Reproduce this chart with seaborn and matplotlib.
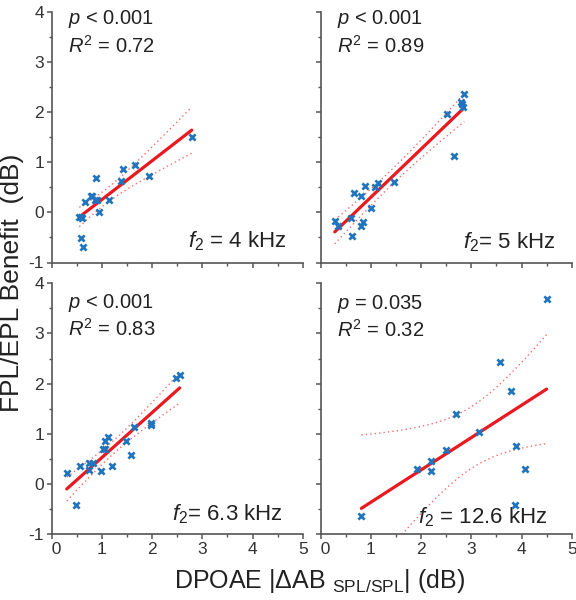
import numpy as np
import pandas as pd
import matplotlib
matplotlib.use("Agg")
import matplotlib.pyplot as plt
from matplotlib.ticker import MultipleLocator
import seaborn as sns

# ---------------- data ----------------
x_4k = [2.79, 1.65, 1.42, 1.38, 1.94, 0.88, 0.78, 0.81, 0.66, 0.86, 0.91, 1.15,
        0.94, 0.55, 0.58, 0.60, 0.58, 0.62]
y_4k = [1.50, 0.95, 0.86, 0.62, 0.73, 0.68, 0.32, 0.33, 0.21, 0.25, 0.25, 0.25,
        0.01, -0.09, -0.10, -0.11, -0.52, -0.70]

x_5k = [2.86, 2.79, 2.81, 2.83, 2.51, 2.66, 1.47, 1.15, 1.09, 0.89, 0.66, 0.80,
        1.00, 0.60, 0.28, 0.34, 0.84, 0.81, 0.62]
y_5k = [2.36, 2.20, 2.16, 2.11, 1.96, 1.12, 0.60, 0.58, 0.51, 0.52, 0.39, 0.32,
        0.08, -0.11, -0.17, -0.27, -0.19, -0.27, -0.47]

x_6k = [2.55, 2.47, 1.64, 1.98, 1.98, 1.48, 1.13, 1.06, 1.03, 1.07, 1.57, 1.21,
        0.82, 0.75, 0.74, 0.99, 0.56, 0.30, 0.48]
y_6k = [2.18, 2.11, 1.14, 1.22, 1.17, 0.85, 0.94, 0.86, 0.70, 0.70, 0.58, 0.36,
        0.42, 0.41, 0.27, 0.26, 0.35, 0.22, -0.42]

x_12k = [4.50, 3.57, 3.80, 2.69, 3.15, 3.90, 2.50, 2.20, 1.91, 2.20, 4.07, 3.88, 0.81]
y_12k = [3.69, 2.44, 1.86, 1.40, 1.04, 0.76, 0.67, 0.46, 0.30, 0.26, 0.30, -0.42, -0.63]

p_texts = ["< 0.001", "< 0.001", "< 0.001", "= 0.035"]
r2_texts = ["0.72", "0.89", "0.83", "0.32"]
f2_texts = [r"$f_2$ = 4 kHz", r"$f_2$= 5 kHz", r"$f_2$= 6.3 kHz", r"$f_2$ = 12.6 kHz"]

xticks = [0, 1, 2, 3, 4, 5]
xtick_labels = ["  0", "1", "2", "3", "4", "5"]
yticks = [-1, 0, 1, 2, 3, 4]

# ---------------- style ----------------
sns.set_theme(style="ticks")
plt.rcParams["font.family"] = ["Liberation Sans", "DejaVu Sans"]
plt.rcParams["mathtext.fontset"] = "custom"
plt.rcParams["mathtext.rm"] = "Liberation Sans"
plt.rcParams["mathtext.it"] = "Liberation Sans:italic"
plt.rcParams["mathtext.bf"] = "Liberation Sans:bold"
plt.rcParams["axes.unicode_minus"] = False

SPINE = "#555555"
TXT = "#222222"
BLUE = "#1f74bd"
RED = "#e8191f"
PINK = "#f26d6d"

fig = plt.figure(figsize=(5.76, 6.0), dpi=100)
W, H = 576.0, 600.0
lefts = [51.7, 320.7]
tops = [11.7, 283.3]
aw, ah = 251.0, 250.8

datasets = [(x_4k, y_4k), (x_5k, y_5k), (x_6k, y_6k), (x_12k, y_12k)]
p_y = [0.951, 0.951, 0.903, 0.896]
r_y = [0.836, 0.836, 0.790, 0.787]
f_x = [0.936, 0.933, 0.920, 0.902]
f_y = [0.060, 0.056, 0.054, 0.041]


def t975(nu):
    z = 1.959964
    return (z + (z**3 + z) / (4 * nu) + (5 * z**5 + 16 * z**3 + 3 * z) / (96 * nu**2)
            + (3 * z**7 + 19 * z**5 + 17 * z**3 - 15 * z) / (384 * nu**3))


for i, (xs, ys) in enumerate(datasets):
    r, c = divmod(i, 2)
    left = lefts[c] / W
    bottom = 1 - (tops[r] + ah) / H
    ax = fig.add_axes([left, bottom, aw / W, ah / H])
    df = pd.DataFrame({"x": xs, "y": ys})

    # regression line through seaborn
    sns.regplot(data=df, x="x", y="y", ax=ax, ci=None, scatter=False, truncate=True,
                line_kws=dict(color=RED, lw=2.3, zorder=3))

    # 95% confidence band of the fit, drawn as dotted lines
    xa = np.asarray(xs, float)
    ya = np.asarray(ys, float)
    n = len(xa)
    b, a = np.polyfit(xa, ya, 1)
    resid = ya - (a + b * xa)
    s = np.sqrt(np.sum(resid**2) / (n - 2))
    sxx = np.sum((xa - xa.mean())**2)
    grid = np.linspace(xa.min(), xa.max(), 100)
    half = t975(n - 2) * s * np.sqrt(1.0 / n + (grid - xa.mean())**2 / sxx)
    fit = a + b * grid
    for sign in (1, -1):
        band = pd.DataFrame({"x": grid, "y": fit + sign * half})
        sns.lineplot(data=band, x="x", y="y", ax=ax, color=PINK, lw=1.0,
                     linestyle=(0, (1, 2.2)), zorder=2)

    sns.scatterplot(data=df, x="x", y="y", ax=ax, marker="x", s=20, color=BLUE,
                    linewidth=1.9, zorder=4)

    ax.set_xlim(0, 5)
    ax.set_ylim(-1, 4)
    ax.set_xticks(xticks)
    ax.set_xticklabels(xtick_labels)
    ax.set_yticks(yticks)
    ax.xaxis.set_minor_locator(MultipleLocator(0.5))
    ax.yaxis.set_minor_locator(MultipleLocator(0.5))
    ax.set_xlabel("")
    ax.set_ylabel("")
    for side in ("top", "right"):
        ax.spines[side].set_visible(False)
    for side in ("left", "bottom"):
        ax.spines[side].set_color(SPINE)
        ax.spines[side].set_linewidth(1.2)
    ax.tick_params(which="major", direction="out", length=3.5, width=1.1, color=SPINE,
                   labelsize=12.5, labelcolor="#333333", pad=2)
    ax.tick_params(which="minor", direction="out", length=2.5, width=1.0, color=SPINE)
    if r == 0:
        ax.tick_params(axis="x", labelbottom=False)
    if c == 1:
        ax.tick_params(axis="y", labelleft=False)
    ax.patch.set_alpha(0)

    ax.text(0.065, p_y[i], r"$p$ " + p_texts[i], transform=ax.transAxes,
            fontsize=14.5, color=TXT, ha="left", va="baseline")
    ax.text(0.065, r_y[i], r"$R^2$ = " + r2_texts[i], transform=ax.transAxes,
            fontsize=14.5, color=TXT, ha="left", va="baseline")
    ax.text(f_x[i], f_y[i], f2_texts[i], transform=ax.transAxes,
            fontsize=16, color=TXT, ha="right", va="baseline")

fig.text(320 / W, 1 - 588.3 / H, r"DPOAE |ΔAB $_{\mathrm{SPL/SPL}}$| (dB)",
         ha="center", va="baseline", fontsize=18, color=TXT)
fig.text(12 / W, 1 - 283 / H, "FPL/EPL Benefit  (dB)", rotation=90,
         ha="center", va="center", fontsize=19, color=TXT)

fig.savefig("out.png", dpi=100)
